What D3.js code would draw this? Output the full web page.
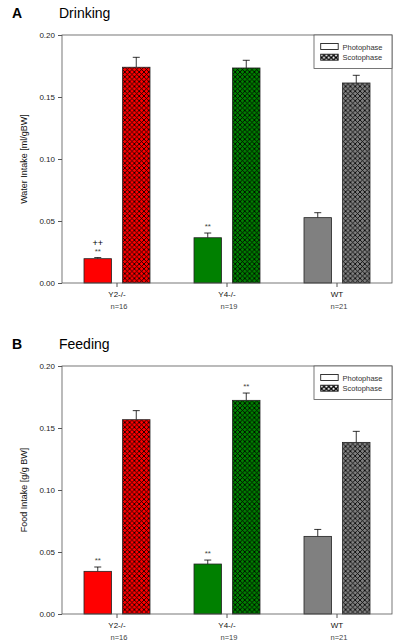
<!DOCTYPE html>
<html><head><meta charset="utf-8">
<script src="https://cdn.jsdelivr.net/npm/d3@7"></script>
<style>body{margin:0;background:#fff;}svg{display:block;font-family:"Liberation Sans",Arial,sans-serif;}</style>
</head><body>
<svg id="c" width="400" height="642"></svg>
<script>
const groups = ["Y2-/-","Y4-/-","WT"];
const nLabels = ["n=16","n=19","n=21"];
const colors = ["#ff0000","#008000","#808080"];
const phases = ["Photophase","Scotophase"];
const yTicks = [0,0.05,0.10,0.15,0.20];

const drinkPhoto = [0.0196,0.0365,0.0527];
const drinkPhotoErr = [0.0009,0.0038,0.0040];
const drinkScoto = [0.174,0.1734,0.1613];
const drinkScotoErr = [0.008,0.0062,0.0062];
const drinkPhotoSig = [["++","**"],["**"],[]];
const drinkScotoSig = [[],[],[]];

const feedPhoto = [0.0344,0.0403,0.0626];
const feedPhotoErr = [0.0035,0.0032,0.0056];
const feedScoto = [0.1567,0.1723,0.1384];
const feedScotoErr = [0.0073,0.0059,0.0089];
const feedPhotoSig = [["**"],["**"],[]];
const feedScotoSig = [[],["**"],[]];

const svg = d3.select("#c");
const defs = svg.append("defs");
const P = 4.8;
colors.forEach((c,i)=>{
  const p = defs.append("pattern").attr("id","hatch"+i).attr("patternUnits","userSpaceOnUse")
    .attr("width",P).attr("height",P);
  p.append("rect").attr("width",P).attr("height",P).attr("fill",c);
  p.append("path").attr("d",`M0,0L${P},${P}M${P},0L0,${P}M-1,${P-1}L1,${P+1}M${P-1},-1L${P+1},1M${P-1},${P+1}L${P+1},${P-1}M-1,1L1,-1`)
    .attr("stroke","#000").attr("stroke-width",0.85);
});
const lp = defs.append("pattern").attr("id","hatchL").attr("patternUnits","userSpaceOnUse").attr("width",P).attr("height",P);
lp.append("rect").attr("width",P).attr("height",P).attr("fill","#fff");
lp.append("path").attr("d",`M0,0L${P},${P}M${P},0L0,${P}`).attr("stroke","#000").attr("stroke-width",1.4);

function panel(top, letter, title, ylabel, photo, photoErr, scoto, scotoErr, photoSig, scotoSig){
  const x0=62, x1=392, yTop=top, yBot=top+248;
  const g = svg.append("g");
  const x = d3.scaleBand().domain(groups).range([x0,x1]).padding(0);
  const y = d3.scaleLinear().domain([0,0.2]).range([yBot,yTop]);
  g.append("text").attr("x",12).attr("y",top-17).attr("font-size",14).attr("font-weight","bold").text(letter);
  g.append("text").attr("x",59).attr("y",top-17).attr("font-size",14).text(title);
  const bw = 27.5, off = 5.5;
  const bars = [];
  groups.forEach((gr,i)=>{
    const c = x(gr)+x.bandwidth()/2;
    bars.push({x:c-off-bw, v:photo[i], e:photoErr[i], fill:colors[i], sig:photoSig[i]});
    bars.push({x:c+off, v:scoto[i], e:scotoErr[i], fill:"url(#hatch"+i+")", sig:scotoSig[i]});
  });
  bars.forEach(b=>{
    const cx = b.x+bw/2;
    g.append("line").attr("x1",cx).attr("x2",cx).attr("y1",y(b.v)).attr("y2",y(b.v+b.e)).attr("stroke","#000").attr("stroke-width",0.8);
    g.append("line").attr("x1",cx-3.5).attr("x2",cx+3.5).attr("y1",y(b.v+b.e)).attr("y2",y(b.v+b.e)).attr("stroke","#000").attr("stroke-width",0.8);
    g.append("rect").attr("x",b.x).attr("y",y(b.v)).attr("width",bw).attr("height",y(0)-y(b.v))
      .attr("fill",b.fill).attr("stroke","#222").attr("stroke-width",0.8);
    b.sig.forEach((s,k)=>{
      const n = b.sig.length;
      g.append("text").attr("x",cx).attr("y",y(b.v+b.e)-4-(n-1-k)*8).attr("text-anchor","middle")
        .attr("font-size",s==="++"?9:8).attr("fill",s==="++"?"#000":"#444").text(s);
    });
  });
  g.append("rect").attr("x",x0).attr("y",yTop).attr("width",x1-x0).attr("height",yBot-yTop)
    .attr("fill","none").attr("stroke","#555").attr("stroke-width",0.8);
  const ya = g.append("g").attr("transform",`translate(${x0},0)`)
    .call(d3.axisLeft(y).tickValues(yTicks).tickFormat(d3.format(".2f")).tickSize(4).tickSizeOuter(0));
  ya.select(".domain").remove();
  ya.selectAll("line").attr("stroke","#555");
  ya.selectAll("text").attr("font-size",8).attr("fill","#222").attr("font-family","Liberation Sans, Arial");
  const xa = g.append("g").attr("transform",`translate(0,${yBot})`)
    .call(d3.axisBottom(x).tickSize(4).tickSizeOuter(0));
  xa.select(".domain").remove();
  xa.selectAll("line").attr("stroke","#555");
  xa.selectAll("text").attr("font-size",8).attr("fill","#111").attr("dy","0.85em").attr("font-family","Liberation Sans, Arial");
  groups.forEach((gr,i)=>{
    g.append("text").attr("x",x(gr)+x.bandwidth()/2+2).attr("y",yBot+25.5).attr("text-anchor","middle")
      .attr("font-size",7.5).attr("fill","#444").text(nLabels[i]);
  });
  g.append("text").attr("transform",`translate(27,${(yTop+yBot)/2}) rotate(-90)`).attr("text-anchor","middle")
    .attr("font-size",9).attr("fill","#111").text(ylabel);
  const lg = g.append("g");
  lg.append("rect").attr("x",314).attr("y",yTop).attr("width",x1-314).attr("height",33.5)
    .attr("fill","#fff").attr("stroke","#555").attr("stroke-width",0.8);
  const fills = ["#fff","url(#hatchL)"];
  phases.forEach((p,k)=>{
    lg.append("rect").attr("x",320.7).attr("y",yTop+8.5+k*10.7).attr("width",17.5).attr("height",6)
      .attr("fill",fills[k]).attr("stroke","#222").attr("stroke-width",0.9);
    lg.append("text").attr("x",342.5).attr("y",yTop+14.5+k*10.7).attr("font-size",7.5).attr("fill","#333").text(p);
  });
}
panel(35,"A","Drinking","Water Intake [ml/gBW]",drinkPhoto,drinkPhotoErr,drinkScoto,drinkScotoErr,drinkPhotoSig,drinkScotoSig);
panel(366,"B","Feeding","Food Intake [g/g BW]",feedPhoto,feedPhotoErr,feedScoto,feedScotoErr,feedPhotoSig,feedScotoSig);
</script>
</body></html>
